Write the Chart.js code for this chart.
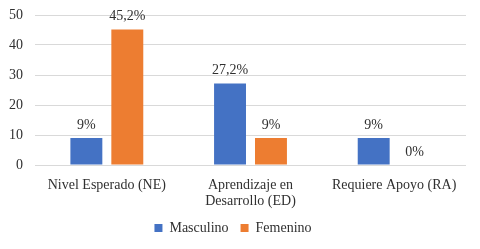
<!DOCTYPE html>
<html>
<head>
<meta charset="utf-8">
<script src="https://cdn.jsdelivr.net/npm/chart.js@4/dist/chart.umd.min.js"></script>
<style>
  html, body { margin: 0; padding: 0; background: #fff; }
</style>
</head>
<body>
<canvas id="chart" width="480" height="249"></canvas>
<script>
// chart data
const categories = [
  "Nivel Esperado (NE)",
  ["Aprendizaje en", "Desarrollo (ED)"],
  "Requiere Apoyo (RA)"
];
const masculino = [9, 27.2, 9];
const femenino = [45.2, 9, 0];
const masculinoLabels = ["9%", "27,2%", "9%"];
const femeninoLabels = ["45,2%", "9%", "0%"];
const yTicks = [0, 10, 20, 30, 40, 50];

const serif = "Liberation Serif";
const textColor = "#303030";

// plugin to write the value labels above each bar
const valueLabels = {
  id: "valueLabels",
  afterDatasetsDraw(chart) {
    const c = chart.ctx;
    c.save();
    c.font = "14px 'Liberation Serif'";
    c.fillStyle = textColor;
    c.textAlign = "center";
    c.textBaseline = "middle";
    chart.data.datasets.forEach((ds, i) => {
      chart.getDatasetMeta(i).data.forEach((bar, j) => {
        c.fillText(ds.valueLabels[j], bar.x, bar.y - 13);
      });
    });
    c.restore();
  }
};

const ctx = document.getElementById("chart").getContext("2d");
new Chart(ctx, {
  type: "bar",
  data: {
    labels: categories,
    datasets: [
      {
        label: "Masculino",
        data: masculino,
        valueLabels: masculinoLabels,
        backgroundColor: "#4472c4",
        categoryPercentage: 0.57,
        barPercentage: 0.78
      },
      {
        label: "Femenino",
        data: femenino,
        valueLabels: femeninoLabels,
        backgroundColor: "#ed7d31",
        categoryPercentage: 0.57,
        barPercentage: 0.78
      }
    ]
  },
  options: {
    responsive: false,
    animation: false,
    layout: { padding: { top: 15, right: 14, left: 0, bottom: 4 } },
    plugins: {
      legend: {
        position: "bottom",
        labels: {
          boxWidth: 8,
          boxHeight: 8,
          padding: 12,
          color: textColor,
          font: { family: serif, size: 14 }
        }
      },
      tooltip: { enabled: false }
    },
    scales: {
      x: {
        grid: { display: false, drawTicks: false },
        border: { display: false },
        afterFit(scale) {
          scale.height = 44;
        },
        ticks: {
          color: textColor,
          maxRotation: 0,
          autoSkip: false,
          padding: 12,
          font: { family: serif, size: 14, lineHeight: 1.15 }
        }
      },
      y: {
        min: 0,
        max: 50,
        afterBuildTicks(scale) {
          scale.ticks = yTicks.map((v) => ({ value: v }));
        },
        afterFit(scale) {
          scale.width = 35;
        },
        grid: { color: "#d9d9d9", drawTicks: false },
        border: { display: false },
        ticks: {
          color: textColor,
          padding: 12,
          // small line height keeps the top label from pushing the plot down
          font: { family: serif, size: 14, lineHeight: 0.4 }
        }
      }
    }
  },
  plugins: [valueLabels]
});
</script>
</body>
</html>
